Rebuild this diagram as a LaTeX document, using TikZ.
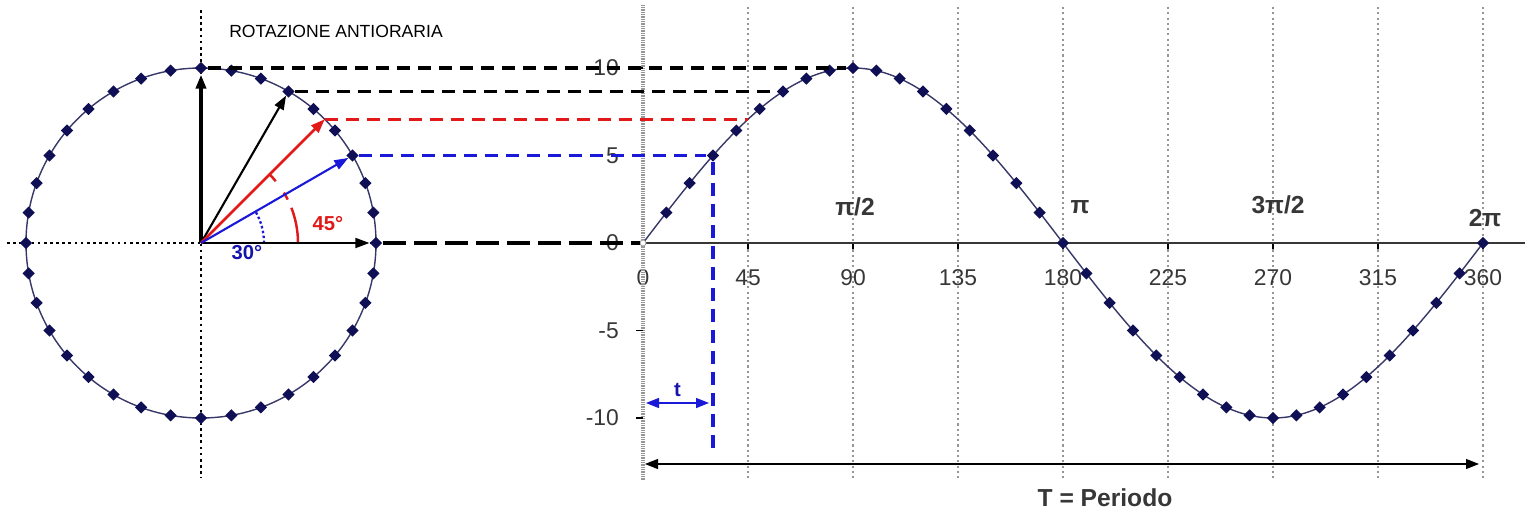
\documentclass[tikz,border=0pt]{standalone}
\usepackage{fontspec}
\setmainfont{Liberation Sans}
\usetikzlibrary{arrows.meta, shapes.geometric, positioning, calc}
\definecolor{navy}{RGB}{15,15,85}
\definecolor{curvecol}{RGB}{55,55,105}
\definecolor{txtgray}{RGB}{55,55,55}
\definecolor{gridgray}{RGB}{150,150,150}
\definecolor{vred}{RGB}{225,25,25}
\definecolor{vblue}{RGB}{25,25,215}
\tikzset{
    pointmark/.style={diamond, fill=navy, draw=none, inner sep=0pt, minimum size=0.25cm},
    curve/.style={draw=curvecol, line width=0.8pt},
    vec/.style={-{Triangle[length=0.28cm, width=0.2cm]}},
    proj/.style={line width=1.8pt, dash pattern=on 0.26cm off 0.16cm},
    gridline/.style={draw=gridgray, line width=0.6pt, dash pattern=on 1.2pt off 1.8pt},
    ticklabel/.style={font=\fontsize{13}{15}\selectfont, text=txtgray},
    pilabel/.style={font=\fontsize{14}{16}\selectfont\bfseries, text=txtgray},
    anglabel/.style={font=\fontsize{11.5}{13}\selectfont\bfseries},
    span/.style={{Triangle[length=0.26cm, width=0.2cm]}-{Triangle[length=0.26cm, width=0.2cm]}, line width=0.6pt}
}

\begin{document}
\begin{tikzpicture}[x=0.02cm, y=0.02cm]
\useasboundingbox (-201,-271) rectangle (1332,243);

% ── Circle: axes, rim and points ─────────────────────────────────────────────
\coordinate (O) at (0,0);
\draw[line width=0.6pt, dash pattern=on 1.5pt off 2pt] (-194,0) -- (175,0);
\draw[line width=0.6pt, dash pattern=on 1.5pt off 2pt] (0,233) -- (0,-235);
\draw[curve] (O) circle (175);
\foreach \a in {0,10,...,350}
    \node[pointmark] (c\a) at (\a:175) {};
\coordinate (c45) at (45:175);

\node[font=\fontsize{10}{12}\selectfont] (title) at (135,212) {ROTAZIONE ANTIORARIA};

% ── Graph: grid, axes and labels ─────────────────────────────────────────────
\foreach \d [count=\i] in {45,90,...,360} {
    \draw[gridline] ({442+\d*7/3},236) -- ({442+\d*7/3},-236);
    \draw[line width=0.6pt] ({442+\d*7/3},0) -- ++(0,-6);
    \node[ticklabel] (xl\i) at ({442+\d*7/3},-35) {\d};
}
\node[ticklabel] (xl0) at (442,-35) {0};
\draw[txtgray, line width=0.6pt] (442,0) -- (1324,0);
\draw[gridgray, line width=2.2pt, dash pattern=on 0.5pt off 0.5pt] (442,238) -- (442,-237);
\foreach \v/\n in {10/a,5/b,0/c,-5/d,-10/e} {
    \draw[line width=0.6pt] (435,{\v*17.5}) -- (442,{\v*17.5});
    \node[ticklabel, anchor=east] (yl\n) at (424,{\v*17.5}) {\v};
}

\node[pilabel] (pihalf) at (654,36) {π/2};
\node[pilabel] (pi) at (879,36) {π};
\node[pilabel] (pithree) at (1077,38) {3π/2};
\node[pilabel] (pitwo) at (1284,25) {2π};

% ── Sine curve and points ────────────────────────────────────────────────────
\draw[curve] plot[domain=0:360, samples=91, smooth] ({442+\x*7/3},{175*sin(\x)});
\node[circle, draw=gridgray, fill=white, inner sep=0pt, minimum size=0.12cm] (s0) at (442,0) {};
\foreach \k in {1,...,36}
    \node[pointmark] (s\k) at ({442+\k*70/3},{175*sin(\k*10)}) {};
\coordinate (s45) at (547,{175*sin(45)});
\coordinate (yfoot) at (0,-212);

% ── Projections ──────────────────────────────────────────────────────────────
\draw[proj] (c90) -- (s9);
\draw[proj] (c60) -- (s6);
\draw[proj, vred] (c45) -- (s45);
\draw[proj, vblue] (c30) -- (s3);
\draw[proj, vblue] (s3) -- (s3 |- yfoot);
\draw[line width=1.8pt, dash pattern=on 0.46cm off 0.16cm] (c0) -- (s0);

% ── Rotating vectors and angles ──────────────────────────────────────────────
\draw[vred, line width=1.4pt, dash pattern=on 0.72cm off 0.18cm on 0.16cm off 0.28cm on 0.2cm]
    (97,0) arc (0:45:97);
\draw[vblue, line width=1.3pt, dash pattern=on 1.4pt off 1.4pt] (63,0) arc (0:30:63);
\draw[vec, line width=2pt] (O) -- (c90);
\draw[vec, line width=1pt] (O) -- (c0);
\draw[vec, line width=1.2pt] (O) -- (c60);
\draw[vec, vred, line width=1.5pt] (O) -- (c45);
\draw[vec, vblue, line width=1.2pt] (O) -- (c30);
\node[anglabel, text=vred] (a45) at (127,19) {45°};
\node[anglabel, text=vblue!80!black] (a30) at (46,-10) {30°};

% ── Time and period ──────────────────────────────────────────────────────────
\coordinate (tl) at (445,-160);
\coordinate (tr) at (508,-160);
\draw[span, vblue, line width=0.8pt] (tl) -- (tr);
\node[anglabel, text=vblue!80!black, above=0pt of $(tl)!0.5!(tr)$] (tlab) {t};

\coordinate (Tl) at (444,-221);
\coordinate (Tr) at (1278,-221);
\draw[span] (Tl) -- (Tr);
\node[pilabel] (period) at (904,-255) {T = Periodo};

\end{tikzpicture}
\end{document}
